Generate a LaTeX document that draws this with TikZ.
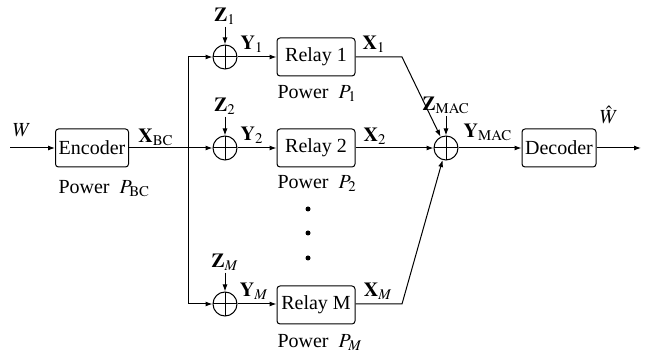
\documentclass[tikz,border=0pt]{standalone}
\usepackage{mathptmx}
\usepackage{fontspec}
\setmainfont{Liberation Serif}
\usetikzlibrary{arrows.meta}
\begin{document}
\begin{tikzpicture}[x=0.5pt,y=-0.5pt,
  blk/.style={draw,rounded corners=1.5pt,inner sep=0pt,minimum height=19pt},
  adder/.style={draw,circle,minimum size=12pt,inner sep=0pt,
    path picture={\draw (path picture bounding box.north) -- (path picture bounding box.south)
      (path picture bounding box.west) -- (path picture bounding box.east);}},
  lbl/.style={inner sep=1pt},
  pw/.style={inner sep=0pt,anchor=west},
  arr/.style={-{Latex[length=3.5pt,width=2.5pt]}},
  line width=0.5pt]
\useasboundingbox (0,0) rectangle (654,352);
% input
\coordinate (in) at (10,148);
\node[lbl] (w) at (22,130) {$W$};
\node[blk,minimum width=36.5pt] (enc) at (92,148) {Encoder};
\node[pw] (pbc) at (58,189) {Power\ \ $P_{\mathrm{BC}}$};
\node[lbl] (xbc) at (156,137) {$\mathbf{X}_{\mathrm{BC}}$};
\draw[arr] (in) -- (enc);
% junctions
\coordinate (j1) at (188,57);
\coordinate (j2) at (188,148);
\coordinate (jM) at (188,304);
% adders
\node[adder] (a1) at (225,57) {};
\node[adder] (a2) at (225,148) {};
\node[adder] (aM) at (225,304) {};
\draw (j1) -- (jM);
\draw[arr] (enc) -- (a2);
\draw[arr] (j1) -- (a1);
\draw[arr] (jM) -- (aM);
% noise
\node[lbl] (z1) at (225,16) {$\mathbf{Z}_1$};
\node[lbl] (z2) at (225,106) {$\mathbf{Z}_2$};
\node[lbl] (zM) at (225,262) {$\mathbf{Z}_M$};
\draw[arr] (z1) -- (a1);
\draw[arr] (z2) -- (a2);
\draw[arr] (zM) -- (aM);
\node[lbl] (y1) at (252,44) {$\mathbf{Y}_1$};
\node[lbl] (y2) at (252,135) {$\mathbf{Y}_2$};
\node[lbl] (yM) at (254,291) {$\mathbf{Y}_M$};
% relays
\node[blk,minimum width=39pt] (r1) at (316,57) {Relay 1};
\node[blk,minimum width=39pt] (r2) at (316,148) {Relay 2};
\node[blk,minimum width=39pt] (rM) at (316,305) {Relay M};
\draw[arr] (a1) -- (r1);
\draw[arr] (a2) -- (r2);
\draw[arr] (aM) -- (rM.west|-aM);
\node[pw] (p1) at (277,93) {Power\ \ $P_1$};
\node[pw] (p2) at (277,183) {Power\ \ $P_2$};
\node[pw] (pM) at (277,342) {Power\ \ $P_M$};
\fill (308,209) circle (2.5);
\fill (308,233) circle (2.5);
\fill (308,258) circle (2.5);
\node[lbl] (x1) at (374,44) {$\mathbf{X}_1$};
\node[lbl] (x2) at (375,136) {$\mathbf{X}_2$};
\node[lbl] (xM) at (378,291) {$\mathbf{X}_M$};
% MAC
\node[adder] (m) at (446,148) {};
\coordinate (c1) at (402,57);
\coordinate (cM) at (402,304);
\draw[arr] (r1) -- (c1) -- (m);
\draw[arr] (r2) -- (m);
\draw[arr] (rM.east|-aM) -- (cM) -- (m);
\node[lbl] (zmac) at (446,105) {$\mathbf{Z}_{\mathrm{MAC}}$};
\draw[arr] (zmac) -- (m);
\node[lbl] (ymac) at (488,132) {$\mathbf{Y}_{\mathrm{MAC}}$};
\node[blk,minimum width=37pt] (dec) at (559,148) {Decoder};
\draw[arr] (m) -- (dec);
\coordinate (out) at (641,148);
\draw[arr] (dec) -- (out);
\node[lbl] (what) at (609,115) {$\hat{W}$};
\end{tikzpicture}
\end{document}
